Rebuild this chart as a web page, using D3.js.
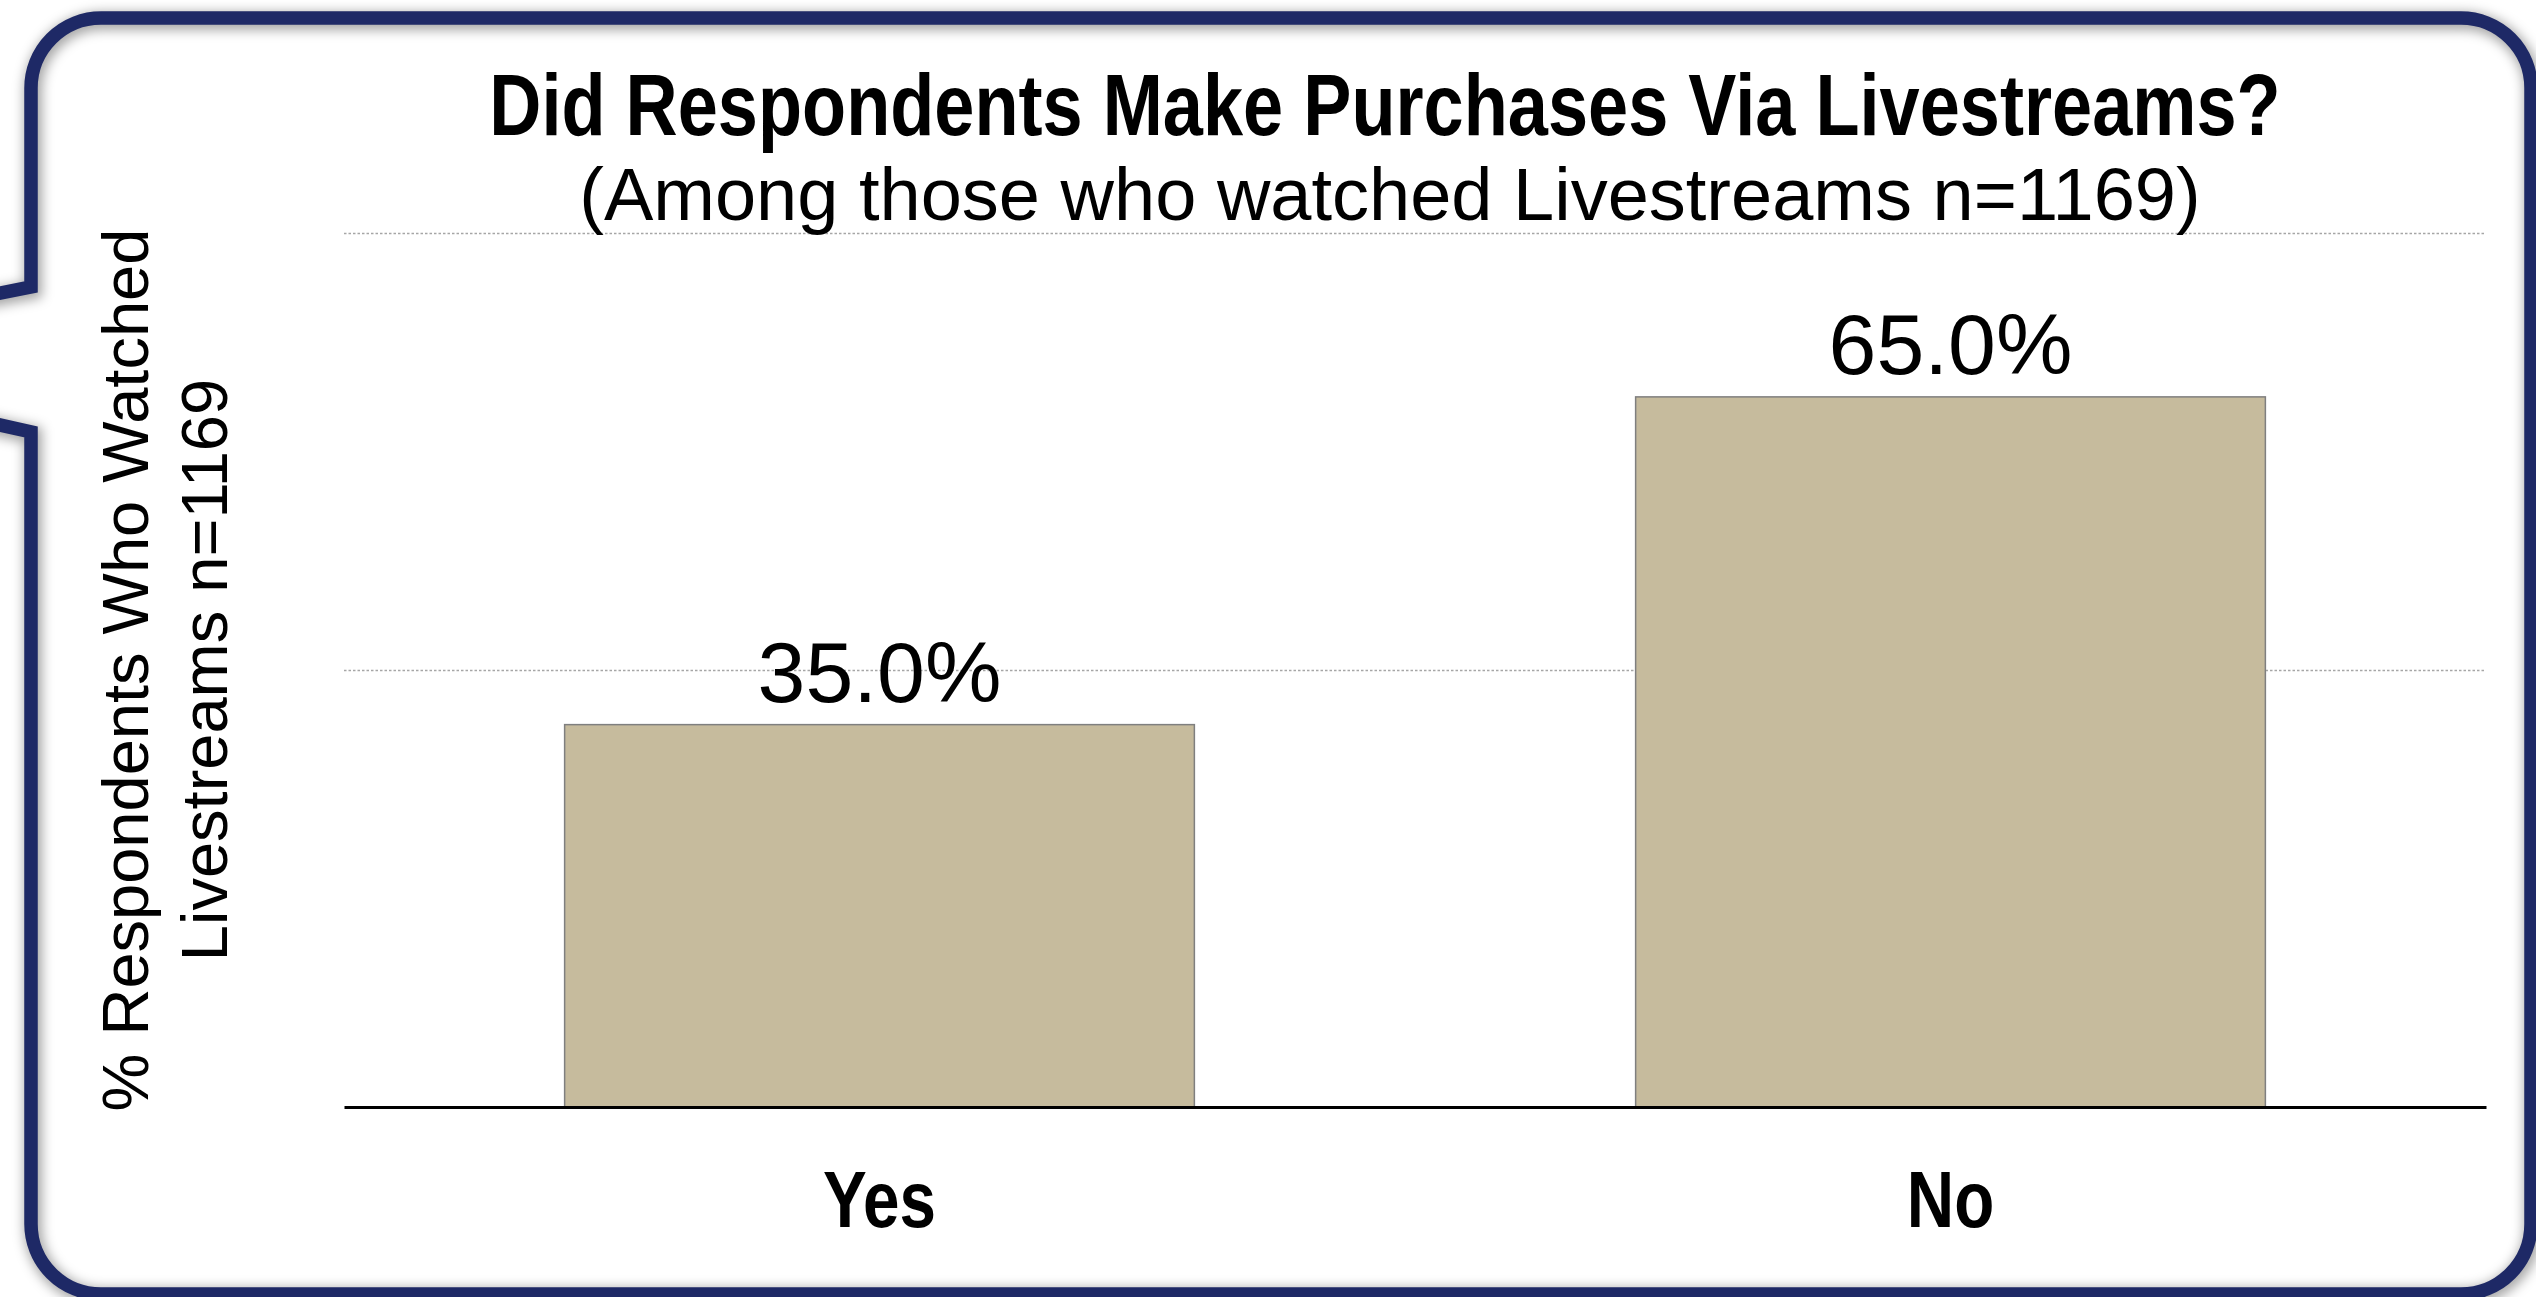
<!DOCTYPE html>
<html>
<head>
<meta charset="utf-8">
<script src="https://cdn.jsdelivr.net/npm/d3@7"></script>
<style>
  html, body { margin: 0; padding: 0; background: #ffffff; }
  svg { display: block; }
</style>
</head>
<body>
<svg id="chart" width="2536" height="1297"></svg>
<script>
// Survey result: share of livestream viewers who bought something
const categories = ["Yes", "No"];
const values = [35.0, 65.0];
const valueLabels = ["35.0%", "65.0%"];
const gridTicks = [40, 80];
const titleText = "Did Respondents Make Purchases Via Livestreams?";
const subtitleText = "(Among those who watched Livestreams n=1169)";
const yLabelLines = ["% Respondents Who Watched", "Livestreams n=1169"];

const W = 2536, H = 1297;
const plot = { left: 344, right: 2486, top: 233, bottom: 1107 };
const NARROW = "'Liberation Sans Narrow', 'Liberation Sans', Arial, sans-serif";
const REGULAR = "'Liberation Sans', Arial, sans-serif";

// Is the narrow face actually installed? Compare against a plain fallback.
const narrowInstalled = (() => {
  const ctx = document.createElement("canvas").getContext("2d");
  const probe = "Did Respondents Make Purchases";
  ctx.font = "bold 40px monospace";
  const a = ctx.measureText(probe).width;
  ctx.font = "bold 40px 'Liberation Sans Narrow', monospace";
  const b = ctx.measureText(probe).width;
  return Math.abs(a - b) > 0.5;
})();

// Squeeze bold text horizontally to narrow proportions when the narrow face is missing.
function condense(sel) {
  if (narrowInstalled) return;
  sel.each(function () {
    const cx = +(this.getAttribute("x") || 0);
    d3.select(this).attr("transform",
      `translate(${cx},0) scale(0.82,1) translate(${-cx},0)`);
  });
}

const svg = d3.select("#chart");

// ---- callout frame with a pointer on the left ----
const defs = svg.append("defs");
const blur = defs.append("filter").attr("id", "frameShadow")
  .attr("x", "-5%").attr("y", "-5%").attr("width", "110%").attr("height", "110%");
blur.append("feGaussianBlur").attr("stdDeviation", 6);

const fx0 = 31, fy0 = 18, fx1 = 2531, fy1 = 1294, r = 70;
const framePath = d3.path();
framePath.moveTo(fx0 + r, fy0);
framePath.lineTo(fx1 - r, fy0);
framePath.arcTo(fx1, fy0, fx1, fy0 + r, r);
framePath.lineTo(fx1, fy1 - r);
framePath.arcTo(fx1, fy1, fx1 - r, fy1, r);
framePath.lineTo(fx0 + r, fy1);
framePath.arcTo(fx0, fy1, fx0, fy1 - r, r);
framePath.lineTo(fx0, 432);
framePath.lineTo(-314, 354);
framePath.lineTo(fx0, 287);
framePath.lineTo(fx0, fy0 + r);
framePath.arcTo(fx0, fy0, fx0 + r, fy0, r);
framePath.closePath();

svg.append("path")
  .attr("d", framePath.toString())
  .attr("fill", "none")
  .attr("stroke", "#000")
  .attr("stroke-opacity", 0.35)
  .attr("stroke-width", 18)
  .attr("transform", "translate(2,3)")
  .attr("filter", "url(#frameShadow)");

svg.append("path")
  .attr("d", framePath.toString())
  .attr("fill", "none")
  .attr("stroke", "#1e2966")
  .attr("stroke-width", 13.5)
  .attr("stroke-linejoin", "miter");

// ---- scales ----
const x = d3.scaleBand()
  .domain(categories)
  .range([plot.left, plot.right])
  .paddingInner(0.412)
  .paddingOuter(0.206);

const y = d3.scaleLinear()
  .domain([0, 80])
  .range([plot.bottom, plot.top]);

// ---- dotted gridlines ----
const grid = svg.append("g")
  .attr("transform", `translate(${plot.left},0)`)
  .call(d3.axisLeft(y)
    .tickValues(gridTicks)
    .tickSize(-(plot.right - plot.left))
    .tickFormat(""));
grid.select(".domain").remove();
grid.selectAll(".tick line")
  .attr("stroke", "#a6a6a6")
  .attr("stroke-width", 1.6)
  .attr("stroke-dasharray", "2.5,2");

// ---- bars ----
const data = categories.map((c, i) => ({ cat: c, value: values[i], label: valueLabels[i] }));

svg.append("g").selectAll("rect")
  .data(data)
  .join("rect")
  .attr("x", d => x(d.cat))
  .attr("y", d => y(d.value))
  .attr("width", x.bandwidth())
  .attr("height", d => y(0) - y(d.value))
  .attr("fill", "#c6bb9d")
  .attr("stroke", "#7f7f7f")
  .attr("stroke-width", 1.5);

// ---- value labels ----
svg.append("g").selectAll("text")
  .data(data)
  .join("text")
  .attr("x", d => x(d.cat) + x.bandwidth() / 2)
  .attr("y", d => y(d.value) - 23)
  .attr("text-anchor", "middle")
  .attr("font-family", REGULAR)
  .attr("font-size", 86)
  .attr("fill", "#000")
  .text(d => d.label);

// ---- category axis ----
const xAxis = svg.append("g")
  .attr("transform", `translate(0,${plot.bottom})`)
  .call(d3.axisBottom(x).tickSize(0).tickSizeOuter(0));
xAxis.select(".domain")
  .attr("stroke", "#000")
  .attr("stroke-width", 3);
xAxis.selectAll(".tick text")
  .attr("y", 120)
  .attr("dy", null)
  .attr("font-family", NARROW)
  .attr("font-weight", "bold")
  .attr("font-size", 80)
  .attr("fill", "#000")
  .call(condense);

// ---- titles ----
svg.append("text")
  .attr("x", 1385)
  .attr("y", 135)
  .attr("text-anchor", "middle")
  .attr("font-family", NARROW)
  .attr("font-weight", "bold")
  .attr("font-size", 88)
  .text(titleText)
  .call(condense);

svg.append("text")
  .attr("x", 1390)
  .attr("y", 220)
  .attr("text-anchor", "middle")
  .attr("font-family", REGULAR)
  .attr("font-size", 74)
  .text(subtitleText);

// ---- vertical axis title ----
const yTitle = svg.append("g")
  .attr("transform", `translate(0,${(plot.top + plot.bottom) / 2}) rotate(-90)`);
yTitle.selectAll("text")
  .data(yLabelLines)
  .join("text")
  .attr("x", 0)
  .attr("y", (d, i) => 148 + i * 79)
  .attr("text-anchor", "middle")
  .attr("font-family", REGULAR)
  .attr("font-size", 65)
  .attr("fill", "#000")
  .text(d => d);
</script>
</body>
</html>
